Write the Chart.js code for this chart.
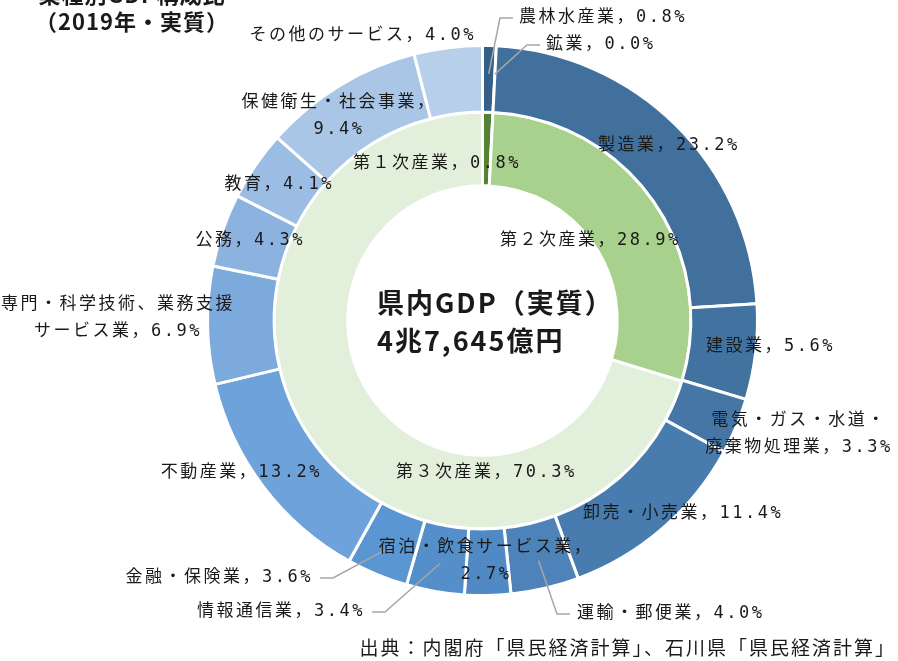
<!DOCTYPE html>
<html>
<head>
<meta charset="utf-8">
<script src="https://cdn.jsdelivr.net/npm/chart.js@4"></script>
<style>
  body { margin: 0; background: #fff; }
  #wrap { width: 898px; height: 661px; position: relative; }
</style>
</head>
<body>
<div id="wrap"><canvas id="myChart" width="898" height="661"></canvas></div>
<script>
'use strict';

// data
let sectors = ['農林水産業', '鉱業', '製造業', '建設業', '電気・ガス・水道・廃棄物処理業', '卸売・小売業',
  '運輸・郵便業', '宿泊・飲食サービス業', '情報通信業', '金融・保険業', '不動産業',
  '専門・科学技術、業務支援サービス業', '公務', '教育', '保健衛生・社会事業', 'その他のサービス'];
let sectorShares = [0.8, 0.0, 23.2, 5.6, 3.3, 11.4, 4.0, 2.7, 3.4, 3.6, 13.2, 6.9, 4.3, 4.1, 9.4, 4.0];

let industryGroups = ['第１次産業', '第２次産業', '第３次産業'];
let groupShares = [0.8, 28.9, 70.3];

let titleLines = ['業種別GDP構成比', '（2019年・実質）'];
let centerLines = ['県内GDP（実質）', '4兆7,645億円'];
let sourceNote = '出典：内閣府「県民経済計算」、石川県「県民経済計算」';

// colours
let sectorColors = ['#335f89', '#3a6895', '#41709d', '#42729f', '#4676a6', '#497cae', '#4d83b9',
  '#5089c3', '#548fca', '#5996d2', '#6ea2da', '#7caadd', '#8cb3e0', '#9bbce3', '#aac6e7', '#b8cfea'];
let groupColors = ['#548235', '#a9d18e', '#e2efda'];

// label placement (layout only)
let labelLayout = [
  {ds: 0, i: 0, x: 519, y: 18, align: 'left', lead: [513, 18, 500, 18]},
  {ds: 0, i: 1, x: 546, y: 45, align: 'left', lead: [540, 45, 527, 45]},
  {ds: 0, i: 2, x: 598, y: 146, align: 'left'},
  {ds: 0, i: 3, x: 706, y: 347, align: 'left'},
  {ds: 0, i: 4, x: 799, y: 421, align: 'center', br: 9},
  {ds: 0, i: 5, x: 583, y: 514, align: 'left'},
  {ds: 0, i: 6, x: 577, y: 614, align: 'left', lead: [570, 614, 557, 614]},
  {ds: 0, i: 7, x: 486, y: 548, align: 'center', br: 11},
  {ds: 0, i: 8, x: 365, y: 612, align: 'right', lead: [372, 612, 385, 612]},
  {ds: 0, i: 9, x: 313, y: 578, align: 'right', lead: [320, 578, 333, 578]},
  {ds: 0, i: 10, x: 322, y: 473, align: 'right'},
  {ds: 0, i: 11, x: 118, y: 305, align: 'center', br: 12},
  {ds: 0, i: 12, x: 305, y: 241, align: 'right'},
  {ds: 0, i: 13, x: 334, y: 185, align: 'right'},
  {ds: 0, i: 14, x: 339, y: 103, align: 'center', br: 10},
  {ds: 0, i: 15, x: 476, y: 36, align: 'right'},
  {ds: 1, i: 0, x: 353, y: 164, align: 'left'},
  {ds: 1, i: 1, x: 500, y: 241, align: 'left'},
  {ds: 1, i: 2, x: 396, y: 473, align: 'left'}
];

let labelFont = "17px 'DejaVu Sans Mono', 'Noto Sans CJK JP'";

function labelText(ds, i) {
  let names = ds === 0 ? sectors : industryGroups;
  let vals = ds === 0 ? sectorShares : groupShares;
  return names[i] + '，' + vals[i].toFixed(1) + '%';
}

let labelPlugin = {
  id: 'labelPlugin',
  afterDraw(chart) {
    let ctx = chart.ctx;
    ctx.save();

    // leader lines
    ctx.strokeStyle = '#a6a6a6';
    ctx.lineWidth = 1.5;
    for (let l of labelLayout) {
      if (!l.lead) continue;
      let arc = chart.getDatasetMeta(l.ds).data[l.i];
      let a = (arc.startAngle + arc.endAngle) / 2;
      let r = (arc.innerRadius + arc.outerRadius) / 2 + 5;
      ctx.beginPath();
      ctx.moveTo(l.lead[0], l.lead[1]);
      ctx.lineTo(l.lead[2], l.lead[3]);
      ctx.lineTo(arc.x + Math.cos(a) * r, arc.y + Math.sin(a) * r);
      ctx.stroke();
    }

    // slice labels
    ctx.fillStyle = '#1a1a1a';
    ctx.font = labelFont;
    ctx.letterSpacing = '2.5px';
    ctx.textBaseline = 'middle';
    for (let l of labelLayout) {
      let txt = labelText(l.ds, l.i);
      let lines = l.br ? [txt.slice(0, l.br), txt.slice(l.br)] : [txt];
      ctx.textAlign = l.align;
      lines.forEach((s, k) => ctx.fillText(s, l.x, l.y + k * 27));
    }

    // centre total
    ctx.font = "bold 27px 'Noto Sans CJK JP'";
    ctx.letterSpacing = '2px';
    ctx.textAlign = 'left';
    ctx.fillText(centerLines[0], 377, 303);
    ctx.fillText(centerLines[1], 377, 341);

    // title
    ctx.font = "bold 22px 'Noto Sans CJK JP'";
    ctx.letterSpacing = '1px';
    ctx.textAlign = 'center';
    ctx.fillText(titleLines[0], 132, -5);
    ctx.fillText(titleLines[1], 132, 22);

    // source
    ctx.font = "19px 'Noto Sans CJK JP'";
    ctx.letterSpacing = '2px';
    ctx.textAlign = 'right';
    ctx.fillText(sourceNote, 896, 648);

    ctx.restore();
  }
};

let ctx = document.getElementById('myChart').getContext('2d');
const myChart = new Chart(ctx, {
  type: 'doughnut',
  data: {
    labels: sectors,
    datasets: [{
      data: sectorShares,
      backgroundColor: sectorColors,
      borderColor: '#ffffff',
      borderWidth: 3,
      hoverBorderWidth: 3,
      hoverOffset: 0,
      weight: 0.95
    },
    {
      data: groupShares,
      backgroundColor: groupColors,
      borderColor: '#ffffff',
      borderWidth: 3,
      hoverBorderWidth: 3,
      hoverOffset: 0,
      weight: 1.05
    }]
  },
  options: {
    responsive: false,
    animation: false,
    cutout: '49%',
    layout: {
      padding: {left: 206, right: 139, top: 44, bottom: 64}
    },
    plugins: {
      legend: {display: false},
      tooltip: {enabled: false}
    }
  },
  plugins: [labelPlugin]
});
</script>
</body>
</html>
